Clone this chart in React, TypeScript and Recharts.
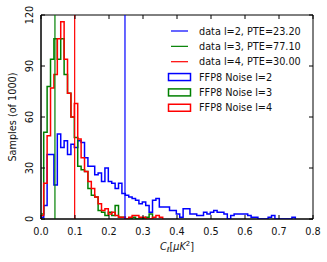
import React from "react";
import { LineChart, Line, XAxis, YAxis, ReferenceLine, ReferenceArea, Legend } from "recharts";

// ---- data ----
const ells = [2, 3, 4];
const colors = ["#0000ff", "#008000", "#ff0000"];
const ptes = ["23.20", "77.10", "30.00"];
const dataValues = [0.247, 0.041, 0.099];
const binStart = -0.002;
const binWidth = 0.01;
// histogram counts per bin (of 1000 samples)
const countsL2 = [1, 8, 38, 38, 20, 50, 42, 46, 38, 44, 42, 46, 45, 36, 31, 31, 26, 27, 22, 30, 22, 21, 18, 21, 15, 14, 13, 12, 11, 9, 10, 8, 4, 11, 12, 7, 7, 7, 5, 5, 3, 1, 6, 6, 3, 3, 2, 2, 4, 3, 4, 5, 4, 4, 3, 0, 2, 3, 3, 3, 3, 2, 1, 1, 0, 0, 0, 1, 2, 0, 0, 0, 0, 0, 1];
const countsL3 = [3, 51, 78, 94, 106, 94, 106, 85, 74, 60, 48, 31, 29, 28, 18, 14, 13, 5, 4, 2, 4, 2, 8, 1, 1, 0, 0, 1, 0, 0, 0, 1, 3];
const countsL4 = [2, 21, 49, 77, 85, 106, 116, 94, 74, 60, 68, 47, 36, 28, 22, 18, 13, 9, 5, 6, 3, 4, 2, 1, 1, 0, 1, 2, 2, 1, 1, 0, 0, 1, 2, 1];
const xTicks = [0, 0.1, 0.2, 0.3, 0.4, 0.5, 0.6, 0.7, 0.8];
const yTicks = [0, 30, 60, 90, 120];

const allCounts = [countsL2, countsL3, countsL4];

function makeSteps(values: number[]) {
  const e = (k: number) => +(binStart + k * binWidth).toFixed(4);
  const pts: { x: number; y: number }[] = [{ x: e(0), y: 0 }];
  values.forEach((v, k) => pts.push({ x: e(k), y: v }));
  pts.push({ x: e(values.length), y: values[values.length - 1] });
  pts.push({ x: e(values.length), y: 0 });
  return pts;
}

const W = 327;
const H = 262;
const M = { top: 15, right: 14, bottom: 13, left: 0 };
const YW = 41;
const XH = 30;
const PLOT_TOP = M.top;
const PLOT_RIGHT = W - M.right;
const FONT = "DejaVu Sans";
const FS = 9.7;

const XTick = (props: any) => {
  const { x, y, payload } = props;
  return (
    <g>
      <line x1={x} x2={x} y1={y} y2={y - 4} stroke="#000" strokeWidth={1} />
      <line x1={x} x2={x} y1={PLOT_TOP} y2={PLOT_TOP + 4} stroke="#000" strokeWidth={1} />
      <text x={x} y={y + 16} textAnchor="middle" fontFamily={FONT} fontSize={FS} fill="#111">
        {Number(payload.value).toFixed(1)}
      </text>
    </g>
  );
};

const YTick = (props: any) => {
  const { x, y, payload } = props;
  const tx = x - 8;
  return (
    <g>
      <line x1={x} x2={x + 4} y1={y} y2={y} stroke="#000" strokeWidth={1} />
      <line x1={PLOT_RIGHT} x2={PLOT_RIGHT - 4} y1={y} y2={y} stroke="#000" strokeWidth={1} />
      <text x={tx} y={y} textAnchor="middle" transform={`rotate(-90, ${tx}, ${y})`} fontFamily={FONT} fontSize={FS} fill="#111">
        {payload.value}
      </text>
    </g>
  );
};

const XLabel = (props: any) => {
  const vb = props.viewBox || {};
  const cx = (vb.x ?? 41) + (vb.width ?? 272) / 2;
  const y = 250;
  return (
    <text x={cx} y={y} textAnchor="middle" fontFamily={FONT} fontSize={FS} fill="#111">
      <tspan fontStyle="italic">C</tspan>
      <tspan fontStyle="italic" fontSize={7} dy={2}>ℓ</tspan>
      <tspan dy={-2}>[</tspan>
      <tspan fontStyle="italic">μK</tspan>
      <tspan fontSize={7} dy={-4}>2</tspan>
      <tspan dy={4}>]</tspan>
    </text>
  );
};

const YLabel = (props: any) => {
  const vb = props.viewBox || {};
  const cy = (vb.y ?? 15) + (vb.height ?? 204) / 2;
  const x = 16;
  return (
    <text x={x} y={cy} textAnchor="middle" transform={`rotate(-90, ${x}, ${cy})`} fontFamily={FONT} fontSize={FS} fill="#111">
      Samples (of 1000)
    </text>
  );
};

const LegendContent = () => {
  const rowH = 15.35;
  const y0 = 31;
  const rows: React.ReactNode[] = [];
  ells.forEach((l, i) => {
    const cy = y0 + i * rowH;
    rows.push(
      <g key={`d${l}`}>
        <line x1={171} x2={188} y1={cy} y2={cy} stroke={colors[i]} strokeWidth={1.2} />
        <text x={199} y={cy + 3.5} fontFamily={FONT} fontSize={FS} fill="#111">{`data l=${l}, PTE=${ptes[i]}`}</text>
      </g>
    );
  });
  ells.forEach((l, i) => {
    const cy = y0 + (i + 3) * rowH;
    rows.push(
      <g key={`n${l}`}>
        <rect x={168.5} y={cy - 3.5} width={22} height={7} fill="none" stroke={colors[i]} strokeWidth={1.5} />
        <text x={199} y={cy + 3.5} fontFamily={FONT} fontSize={FS} fill="#111">{`FFP8 Noise l=${l}`}</text>
      </g>
    );
  });
  return (
    <svg width={W} height={H} style={{ position: "absolute", left: 0, top: 0 }}>
      {rows}
    </svg>
  );
};

export default function App() {
  return (
    <div style={{ position: "absolute", left: 0, top: 0, width: W, height: H, background: "#fff" }}>
      <LineChart width={W} height={H} margin={M}>
        <XAxis
          type="number"
          dataKey="x"
          domain={[0, 0.8]}
          ticks={xTicks}
          interval={0}
          allowDataOverflow
          height={XH}
          tickSize={0}
          tickMargin={0}
          tickLine={false}
          axisLine={{ stroke: "#000" }}
          tick={<XTick />}
          label={<XLabel />}
        />
        <YAxis
          type="number"
          dataKey="y"
          domain={[0, 120]}
          ticks={yTicks}
          interval={0}
          allowDataOverflow
          width={YW}
          tickSize={0}
          tickMargin={0}
          tickLine={false}
          axisLine={{ stroke: "#000" }}
          tick={<YTick />}
          label={<YLabel />}
        />
        {allCounts.map((c, i) => (
          <Line
            key={`h${i}`}
            data={makeSteps(c)}
            dataKey="y"
            type="stepAfter"
            stroke={colors[i]}
            strokeWidth={1.5}
            dot={false}
            activeDot={false}
            isAnimationActive={false}
            name={`FFP8 Noise l=${ells[i]}`}
          />
        ))}
        {dataValues.map((v, i) => (
          <ReferenceLine key={`r${i}`} x={v} stroke={colors[i]} strokeWidth={1.2} />
        ))}
        <ReferenceArea x1={0} x2={0.8} y1={0} y2={120} fill="none" stroke="#000" strokeWidth={1} fillOpacity={0} />
        <Legend
          layout="vertical"
          align="center"
          verticalAlign="middle"
          content={<LegendContent />}
          wrapperStyle={{ left: 0, top: 0, width: W, height: H, pointerEvents: "none" }}
        />
      </LineChart>
    </div>
  );
}
